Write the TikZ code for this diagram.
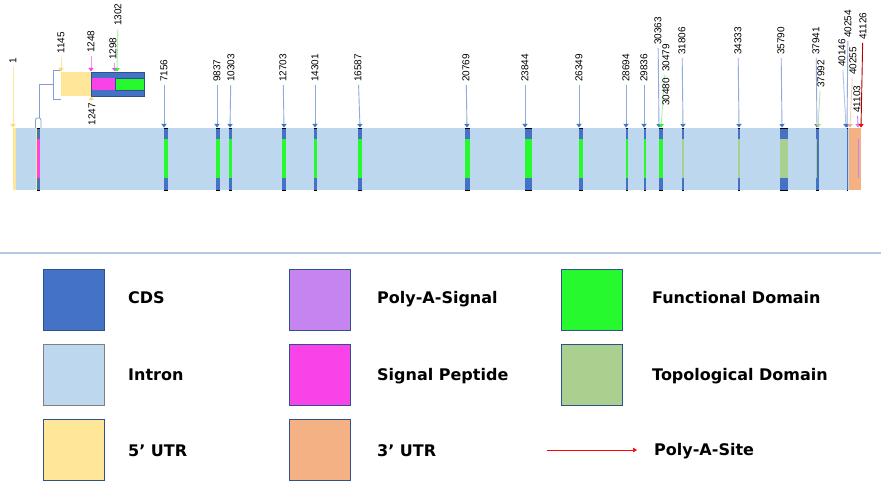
\documentclass[tikz,border=0pt]{standalone}
\usepackage{fontspec}
\setmainfont{Liberation Sans}
\newfontfamily\legfont{DejaVu Sans}
\usetikzlibrary{arrows.meta}
\definecolor{cds}{HTML}{4472C4}
\definecolor{intron}{HTML}{BDD7EE}
\definecolor{utrf}{HTML}{FFE699}
\definecolor{utrfd}{HTML}{FFD966}
\definecolor{pas}{HTML}{C584EF}
\definecolor{sigp}{HTML}{F943E8}
\definecolor{utrt}{HTML}{F4B183}
\definecolor{fdom}{HTML}{27F92F}
\definecolor{fdoml}{HTML}{A8F5AA}
\definecolor{tdom}{HTML}{A9D08E}
\definecolor{lineblue}{HTML}{8FAADC}
\definecolor{sepblue}{HTML}{B4C7E7}
\definecolor{edge}{HTML}{2F528F}
\newcommand\gexon[3]{%
  \fill[cds] (#1,128) rectangle (#2,139);
  \fill[#3] (#1,139) rectangle (#2,178);
  \fill[cds] (#1,178) rectangle (#2,190);
  \draw[black,line width=0.6pt] (#1,128) -- (#2,128) (#1,190) -- (#2,190);
}
\newcommand\gmark[8]{%
  \node[numlbl] (#1) at (#2,#3) {#4};
  \coordinate (#1t) at (#7,#8);
  \draw[line width=0.9pt,#5,shorten <=3pt,-{Triangle[width=5pt,length=3.5pt,color=#6]}] (#1) -- (#1t);
}
\begin{document}
\begin{tikzpicture}[x=1pt,y=-1pt,
  numlbl/.style={rotate=90,anchor=west,inner sep=0pt,font=\fontsize{10}{12}\selectfont,text=black},
  legbox/.style={draw=edge,line width=0.8pt,minimum width=61pt,minimum height=61pt,inner sep=0pt},
  legtxt/.style={anchor=base west,inner sep=0pt,font=\legfont\bfseries\fontsize{16}{19}\selectfont},
  brk/.style={draw=lineblue!80!cds,line width=0.8pt}]
\useasboundingbox (0,0) rectangle (881,494);
\fill[white] (0,0) rectangle (881,494);
% main bar
\fill[intron] (16,128) rectangle (849,190);
\fill[utrf] (13,128) rectangle (16,190);
% first exon (5'UTR + signal peptide)
\fill[utrf!70!yellow] (36,128) rectangle (37.2,190);
\gexon{37.2}{40}{sigp}
\gexon{164}{168}{fdom}
\gexon{216}{220}{fdom}
\gexon{229}{232}{fdom}
\gexon{282}{286}{fdom}
\gexon{314}{317}{fdom}
\gexon{358}{362}{fdom}
\gexon{465}{470}{fdom}
\gexon{525}{532}{fdom}
\gexon{579}{583}{fdom}
\gexon{626}{628}{fdom}
\gexon{644}{646}{fdom}
\gexon{659}{663}{fdom}
\gexon{682}{684}{tdom}
\gexon{738}{740}{tdom}
\gexon{780}{788}{tdom}
\gexon{816}{819}{cds}
\fill[tdom] (816,139) rectangle (817,178);
\gexon{846.5}{848}{cds}
\fill[utrt] (849,128) rectangle (861,190);
\fill[pas] (858,139) rectangle (859.3,178);
% inset zoom of first exon
\fill[utrf] (61,72) rectangle (91,96);
\filldraw[fill=cds,draw=edge,line width=0.5pt] (91,72) rectangle (144,96);
\fill[sigp] (91.5,78) rectangle (115.3,90);
\filldraw[fill=fdom,draw=edge,line width=0.4pt] (115.3,78) rectangle (144,90);
% bracket
\draw[brk] (61,70) -- (53,70) -- (53,99) -- (61,99);
\draw[brk] (53,84) -- (39,84) -- (39,118);
\draw[brk,rounded corners=2pt] (35.5,128) -- (35.5,118) -- (41,118) -- (41,128);
% markers
\gmark{mA}{13}{64}{1}{utrf}{utrfd}{13}{127.5}
\gmark{mB}{61}{54}{1145}{utrf}{utrfd}{61}{71.5}
\gmark{mC}{91}{53}{1248}{sigp!60}{sigp}{91}{71.5}
\gmark{mD}{113}{60}{1298}{sigp!60}{sigp}{115}{71.5}
\gmark{mE}{118}{26}{1302}{fdoml}{fdom}{117}{71.5}
\node[rotate=90,anchor=east,inner sep=0pt,font=\fontsize{10}{12}\selectfont,text=black] (mF) at (92,103) {1247};
\coordinate (mFt) at (91,96.5);
\draw[line width=0.9pt,utrf,shorten <=2pt,-{Triangle[width=5pt,length=3.5pt,color=utrfd]}] (mF) -- (mFt);
\gmark{mG}{164}{82}{7156}{lineblue}{cds}{164}{127.5}
\gmark{mH}{217}{82}{9837}{lineblue}{cds}{217}{127.5}
\gmark{mI}{231}{82}{10303}{lineblue}{cds}{230}{127.5}
\gmark{mJ}{283}{82}{12703}{lineblue}{cds}{284}{127.5}
\gmark{mK}{315}{82}{14301}{lineblue}{cds}{315}{127.5}
\gmark{mL}{358}{82}{16587}{lineblue}{cds}{360}{127.5}
\gmark{mM}{466}{82}{20769}{lineblue}{cds}{467}{127.5}
\gmark{mN}{525}{82}{23844}{lineblue}{cds}{525}{127.5}
\gmark{mO}{579}{82}{26349}{lineblue}{cds}{579}{127.5}
\gmark{mP}{626}{82}{28694}{lineblue}{cds}{626}{127.5}
\gmark{mQ}{644}{82}{29836}{lineblue}{cds}{644}{127.5}
\gmark{mR}{658}{45}{30363}{lineblue}{cds}{659}{127.5}
\gmark{mS}{666}{72}{30479}{fdoml}{fdom}{661}{127.5}
\node[numlbl] (mT) at (666,106) {30480};
\gmark{mU}{682}{55}{31806}{lineblue}{cds}{683}{127.5}
\gmark{mV}{738}{55}{34333}{lineblue}{cds}{739}{127.5}
\gmark{mW}{781}{55}{35790}{lineblue}{cds}{782}{127.5}
\gmark{mX}{816}{55}{37941}{lineblue}{cds}{817}{127.5}
\gmark{mY}{821}{88}{37992}{tdom!70}{tdom}{818}{127.5}
\gmark{mZ}{842}{67}{40146}{lineblue!70}{cds}{846}{127.5}
\gmark{mAA}{848}{38}{40254}{lineblue}{cds}{847}{127.5}
\gmark{mAB}{853}{75}{40255}{utrt!60}{utrt}{850}{127.5}
\gmark{mAC}{857}{113}{41103}{pas}{pas}{858}{127.5}
\gmark{mAD}{863}{40}{41126}{red!70!black}{red}{861}{127.5}
% separator
\draw[sepblue,line width=1.5pt] (0,253) -- (881,253);
% legend
\node[legbox,fill=cds] (kA) at (73.5,299.5) {};
\node[legbox,fill=intron,draw=gray] (kB) at (73.5,374.5) {};
\node[legbox,fill=utrf] (kC) at (73.5,449.5) {};
\node[legbox,fill=pas] (kD) at (320,299.5) {};
\node[legbox,fill=sigp] (kE) at (320,374.5) {};
\node[legbox,fill=utrt] (kF) at (320,449.5) {};
\node[legbox,fill=fdom] (kG) at (591.5,299.5) {};
\node[legbox,fill=tdom] (kH) at (591.5,374.5) {};
\node[legtxt] (tA) at (128,303.5) {CDS};
\node[legtxt] (tB) at (128,380) {Intron};
\node[legtxt] (tC) at (128,456) {5’ UTR};
\node[legtxt] (tD) at (377,303.5) {Poly-A-Signal};
\node[legtxt] (tE) at (377,380) {Signal Peptide};
\node[legtxt] (tF) at (377,456) {3’ UTR};
\node[legtxt] (tG) at (652,303.5) {Functional Domain};
\node[legtxt] (tH) at (652,380) {Topological Domain};
\node[legtxt] (tI) at (654,455.5) {Poly-A-Site};
\coordinate (pa1) at (547,450);
\coordinate (pa2) at (637,450);
\draw[red,line width=0.6pt,-{Triangle[width=4.5pt,length=4pt]}] (pa1) -- (pa2);
\end{tikzpicture}
\end{document}
